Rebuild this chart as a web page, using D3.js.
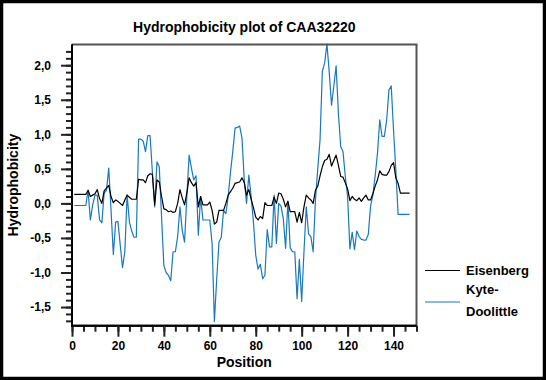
<!DOCTYPE html>
<html>
<head>
<meta charset="utf-8">
<script src="https://cdn.jsdelivr.net/npm/d3@7"></script>
<style>
    body { margin: 0; background: #fff; }
    #space { width: 546px; height: 380px; }
    text { font-family: "Liberation Sans", Arial, sans-serif; font-weight: bold; }
</style>
</head>
<body>
<div id="space"></div>
<script>

// Sliding window hydrophobicity values, one per residue (position 1..147)
var eisenberg = [
    0.13, 0.13, 0.13, 0.13, 0.13, 0.13, 0.19, 0.10, 0.12, 0.14,
    0.20, 0.07, 0.00, 0.18, 0.22, 0.26, 0.10, 0.01, 0.05, 0.03,
    0.00, -0.03, 0.05, 0.12, 0.09, 0.06, 0.06, 0.06, 0.35, 0.34,
    0.34, 0.30, 0.40, 0.43, 0.42, -0.02, 0.34, 0.31, 0.10, -0.08,
    -0.09, -0.12, -0.11, -0.13, -0.12, 0.00, 0.20, 0.08, -0.02, 0.15,
    0.37, 0.30, 0.25, 0.30, -0.05, 0.10, -0.02, -0.02, -0.02, 0.02,
    -0.10, -0.30, -0.27, -0.10, -0.10, -0.10, 0.00, 0.12, 0.17, 0.22,
    0.29, 0.30, 0.31, 0.37, 0.30, 0.12, 0.20, 0.06, -0.06, -0.20,
    -0.24, -0.19, -0.22, 0.01, -0.03, -0.03, -0.03, 0.09, 0.00, 0.15,
    0.14, 0.06, -0.05, 0.03, -0.12, -0.12, -0.12, -0.27, -0.13, -0.28,
    -0.05, 0.12, 0.08, 0.05, 0.00, 0.19, 0.25, 0.40, 0.53, 0.62,
    0.64, 0.71, 0.54, 0.62, 0.70, 0.55, 0.39, 0.38, 0.30, 0.21,
    0.04, 0.10, 0.06, 0.04, 0.08, 0.03, 0.08, 0.12, 0.05, 0.05,
    0.14, 0.25, 0.34, 0.47, 0.42, 0.41, 0.41, 0.46, 0.55, 0.59,
    0.37, 0.29, 0.15, 0.15, 0.15, 0.15, 0.15
];

var kyteDoolittle = [
    -0.03, -0.03, -0.03, -0.03, -0.03, -0.03, 0.19, -0.24, -0.02, 0.12,
    0.12, -0.24, -0.28, 0.15, 0.19, 0.51, -0.10, -0.74, -0.27, -0.26,
    -0.60, -0.93, -0.70, 0.12, -0.27, -0.40, -0.49, -0.49, 0.93, 0.93,
    0.90, 0.75, 0.98, 0.98, 0.45, -0.05, 0.60, 0.53, -0.20, -0.90,
    -1.00, -1.04, -1.12, -0.70, -0.70, -0.48, -0.05, -0.39, -0.56, 0.10,
    0.70, 0.51, 0.34, 0.40, -0.46, 0.10, -0.24, -0.24, -0.24, -0.24,
    -0.58, -1.71, -1.10, -0.56, -0.49, -0.10, -0.15, 0.10, 0.45, 0.75,
    1.09, 1.10, 1.12, 0.95, 0.34, 0.00, 0.41, 0.10, -0.27, -0.75,
    -0.95, -0.88, -1.09, -1.04, -0.38, -0.63, -0.63, 0.12, -0.58, 0.00,
    -0.04, -0.22, -0.65, 0.03, -0.64, -0.70, -0.70, -1.38, -0.81, -1.42,
    -0.70, -0.05, -0.44, -0.48, -0.70, 0.05, 0.50, 0.92, 1.91, 2.03,
    2.31, 1.90, 1.42, 1.70, 1.99, 1.30, 0.82, 0.75, 0.39, 0.10,
    -0.66, -0.42, -0.67, -0.40, -0.48, -0.52, -0.53, -0.53, -0.45, -0.04,
    0.12, 0.40, 0.72, 1.21, 0.97, 0.97, 1.20, 1.64, 1.70, 1.06,
    0.48, -0.16, -0.16, -0.16, -0.16, -0.16, -0.16
];

var xMajorTicks = [0, 20, 40, 60, 80, 100, 120, 140];
var xMinorTicks = [0, 5, 10, 15, 20, 25, 30, 35, 40, 45, 50, 55, 60, 65, 70, 75,
                   80, 85, 90, 95, 100, 105, 110, 115, 120, 125, 130, 135, 140, 145, 150];
var yMajorTicks = [-1.5, -1.0, -0.5, 0.0, 0.5, 1.0, 1.5, 2.0];
var yMinorTicks = [-1.7, -1.6, -1.5, -1.4, -1.3, -1.2, -1.1, -1.0, -0.9, -0.8, -0.7, -0.6,
                   -0.5, -0.4, -0.3, -0.2, -0.1, 0.0, 0.1, 0.2, 0.3, 0.4, 0.5, 0.6, 0.7,
                   0.8, 0.9, 1.0, 1.1, 1.2, 1.3, 1.4, 1.5, 1.6, 1.7, 1.8, 1.9, 2.0, 2.1, 2.2];

var seriesNames = ["Eisenberg", "Kyte-Doolittle"];
var seriesColors = ["#000000", "#1a78bd"];

var svg, x, y;

init();

function init()
{
    svg = d3.select("#space").append("svg")
        .attr("xmlns", "http://www.w3.org/2000/svg")
        .attr("width", 546)
        .attr("height", 380);

    svg.append("rect")
        .attr("width", 546).attr("height", 380)
        .attr("fill", "#fff");

    x = d3.scaleLinear().domain([0, 150]).range([72, 416.5]);
    y = d3.scaleLinear().domain([-1.77, 2.3]).range([325.7, 44.5]);

    drawLines();
    drawAxes();
    drawLegend();
    drawTexts();

    // outer frame
    svg.append("rect")
        .attr("x", 1.5).attr("y", 1.5)
        .attr("width", 543).attr("height", 377)
        .attr("fill", "none")
        .attr("stroke", "#000")
        .attr("stroke-width", 3.5);
}

function drawLines() {
    var line = d3.line()
        .x(function (d, i) { return x(i + 1); })
        .y(function (d) { return y(d); });

    var data = [eisenberg, kyteDoolittle];
    // blue below black
    for (var k = data.length - 1; k >= 0; k--) {
        svg.append("path")
            .datum(data[k])
            .attr("fill", "none")
            .attr("stroke", seriesColors[k])
            .attr("stroke-width", 1.2)
            .attr("stroke-linejoin", "round")
            .attr("d", line);
    }
}

function fmtComma(d) {
    return d3.format(".1f")(d).replace(".", ",").replace("−", "-");
}

function drawAxes() {
    //Top and right frame of plot
    svg.append("line")
        .attr("x1", x(0)).attr("x2", x(150) + 1)
        .attr("y1", y(2.3)).attr("y2", y(2.3))
        .attr("stroke", "#555").attr("stroke-width", 2);
    svg.append("line")
        .attr("x1", x(150)).attr("x2", x(150))
        .attr("y1", y(2.3)).attr("y2", y(-1.77))
        .attr("stroke", "#555").attr("stroke-width", 2);

    var gx = svg.append("g").attr("transform", "translate(0," + y(-1.77) + ")");
    gx.call(d3.axisBottom(x).tickValues(xMinorTicks).tickSize(6).tickFormat(""));
    var gxMaj = svg.append("g").attr("transform", "translate(0," + y(-1.77) + ")");
    gxMaj.call(d3.axisBottom(x).tickValues(xMajorTicks).tickSize(11).tickPadding(5));

    var gy = svg.append("g").attr("transform", "translate(" + x(0) + ",0)");
    gy.call(d3.axisLeft(y).tickValues(yMinorTicks).tickSize(6).tickFormat(""));
    var gyMaj = svg.append("g").attr("transform", "translate(" + x(0) + ",0)");
    gyMaj.call(d3.axisLeft(y).tickValues(yMajorTicks).tickSize(11).tickPadding(10).tickFormat(fmtComma));

    svg.selectAll(".domain")
        .attr("stroke", "#000")
        .attr("stroke-width", 2)
        .attr("d", null);
    [gx, gxMaj].forEach(function (g) {
        g.select(".domain").attr("d", "M0,0H" + (x(150) - x(0)));
        g.select(".domain").attr("transform", "translate(" + x(0) + ",0)");
    });
    [gy, gyMaj].forEach(function (g) {
        g.select(".domain").attr("d", "M0," + y(2.3) + "V" + (y(-1.77) + 1));
    });

    svg.selectAll(".tick line")
        .attr("stroke", "#222")
        .attr("stroke-width", 2);
    svg.selectAll(".tick text")
        .attr("font-family", "Liberation Sans, Arial, sans-serif")
        .attr("font-size", 12)
        .attr("font-weight", "bold")
        .attr("fill", "#000");
}

function drawLegend() {
    var rows = [
        { y: 270.5, ty: 275, lines: ["Eisenberg"] },
        { y: 302, ty: 294, lines: ["Kyte-", "Doolittle"] }
    ];
    for (var i = 0; i < rows.length; i++) {
        svg.append("line")
            .attr("x1", 425).attr("x2", 460)
            .attr("y1", rows[i].y).attr("y2", rows[i].y)
            .attr("stroke", seriesColors[i])
            .attr("stroke-width", 1.2);
        var t = svg.append("text")
            .attr("x", 466)
            .attr("font-size", 13)
            .attr("fill", "#000");
        for (var j = 0; j < rows[i].lines.length; j++) {
            t.append("tspan")
                .attr("x", 466)
                .attr("y", rows[i].ty + j * 22)
                .text(rows[i].lines[j]);
        }
    }
}

function drawTexts() {
    svg.append("text")
        .attr("x", (x(0) + x(150)) / 2)
        .attr("y", 32)
        .attr("text-anchor", "middle")
        .attr("font-size", 14)
        .text("Hydrophobicity plot of CAA32220");

    svg.append("text")
        .attr("x", (x(0) + x(150)) / 2)
        .attr("y", 367)
        .attr("text-anchor", "middle")
        .attr("font-size", 14)
        .text("Position");

    svg.append("text")
        .attr("transform", "translate(18," + (y(2.3) + y(-1.77)) / 2 + ") rotate(-90)")
        .attr("text-anchor", "middle")
        .attr("font-size", 14)
        .text("Hydrophobicity");
}

</script>
</body>
</html>
